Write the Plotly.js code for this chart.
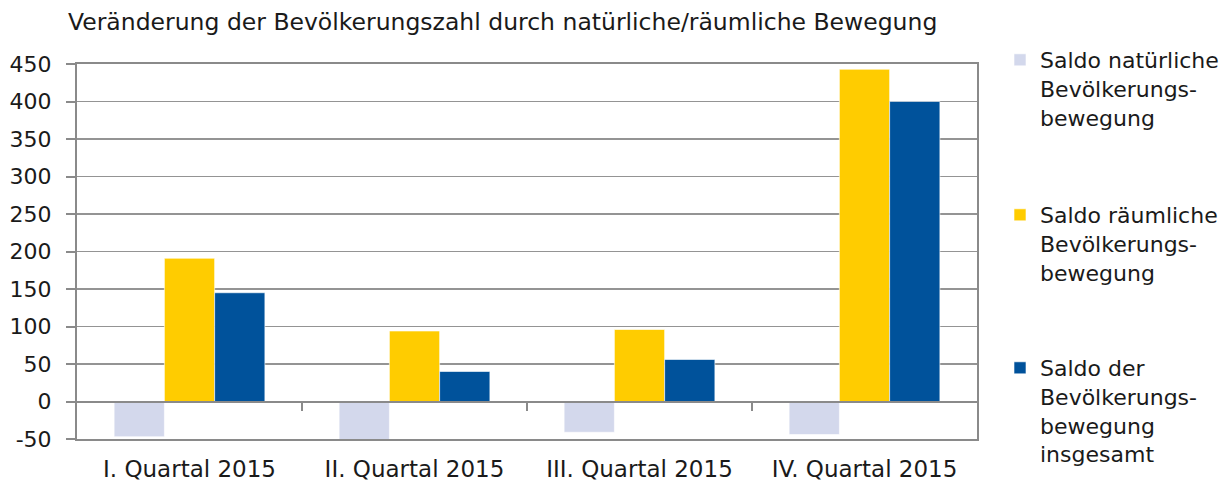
<!DOCTYPE html>
<html>
<head>
<meta charset="utf-8">
<script src="https://cdn.plot.ly/plotly-3.0.1.min.js"></script>
<style>html,body{margin:0;padding:0;background:#fff;}#chart{width:1231px;height:488px;}</style>
</head>
<body>
<div id="chart"></div>
<script>
const categories = ["I. Quartal 2015", "II. Quartal 2015", "III. Quartal 2015", "IV. Quartal 2015"];
const seriesNames = ["Saldo natürliche<br>Bevölkerungs-<br>bewegung", "Saldo räumliche<br>Bevölkerungs-<br>bewegung", "Saldo der<br>Bevölkerungs-<br>bewegung<br>insgesamt"];
const natuerlich = [-47, -54, -41, -44];
const raeumlich = [191, 94, 96, 443];
const insgesamt = [145, 40, 56, 400];
const yTicks = [-50, 0, 50, 100, 150, 200, 250, 300, 350, 400, 450];
const colors = ["#D3D8EC", "#FFCC00", "#00529B"];

const FONT = "'DejaVu Sans', Tahoma, sans-serif";
const values = [natuerlich, raeumlich, insgesamt];
const legendIds = ["legend", "legend2", "legend3"];
const traces = values.map((v, i) => ({
  type: "bar", x: categories, y: v, name: seriesNames[i],
  legend: legendIds[i],
  marker: {color: colors[i], line: {color: "#ffffff", width: 0.6}},
  hoverinfo: "x+y"
}));
// helper trace for the zero-line tick axis
traces.push({type: "scatter", x: [0, 4], y: [0, 0], xaxis: "x2", mode: "lines", line: {width: 0}, showlegend: false, hoverinfo: "skip"});

const PLOT_L = 77, PLOT_R = 977, PLOT_T = 64, PLOT_B = 439;
const px2x = p => (p - PLOT_L) / (PLOT_R - PLOT_L);
const px2y = p => (PLOT_B - p) / (PLOT_B - PLOT_T);
const legendBase = {x: px2x(1000), xanchor: "left", yanchor: "top", font: {size: 22},
                    valign: "top", itemwidth: 30, bgcolor: "rgba(0,0,0,0)"};

const layout = {
  width: 1231, height: 488,
  margin: {l: PLOT_L, r: 1231 - PLOT_R, t: PLOT_T, b: 488 - PLOT_B, autoexpand: false},
  paper_bgcolor: "#ffffff", plot_bgcolor: "#ffffff",
  font: {family: FONT, size: 22, color: "#1a1a1a"},
  title: {text: "Veränderung der Bevölkerungszahl durch natürliche/räumliche Bewegung",
          x: 68/1231, xanchor: "left", y: 1 - 22/488, yanchor: "middle",
          font: {family: FONT, size: 23.5, color: "#1a1a1a"}},
  barmode: "group", bargap: 0.33, bargroupgap: 0,
  xaxis: {type: "category", showline: true, linecolor: "#8a8a8a", linewidth: 2, mirror: true,
          ticks: "", showgrid: false, zeroline: false, tickfont: {size: 23}, ticklabelstandoff: 8},
  xaxis2: {overlaying: "x", anchor: "free", position: 0.1, range: [0, 4], tickvals: [1, 2, 3],
           showticklabels: false, ticks: "outside", ticklen: 8, tickwidth: 2, tickcolor: "#8a8a8a",
           showline: true, linecolor: "#8a8a8a", linewidth: 2, showgrid: false, zeroline: false},
  yaxis: {range: [-50, 450], tickvals: yTicks, ticktext: yTicks.map(String),
          showline: true, linecolor: "#8a8a8a", linewidth: 2, mirror: true,
          ticks: "outside", ticklen: 9, tickwidth: 2, tickcolor: "#8a8a8a",
          showgrid: true, gridcolor: "#949494", gridwidth: 1.5, zeroline: false,
          tickfont: {size: 22}, ticklabelstandoff: 10},
  showlegend: true,
  legend: Object.assign({}, legendBase, {y: px2y(39)}),
  legend2: Object.assign({}, legendBase, {y: px2y(194)}),
  legend3: Object.assign({}, legendBase, {y: px2y(347)})
};
Plotly.newPlot("chart", traces, layout, {displayModeBar: false, staticPlot: true});
</script>
</body>
</html>
